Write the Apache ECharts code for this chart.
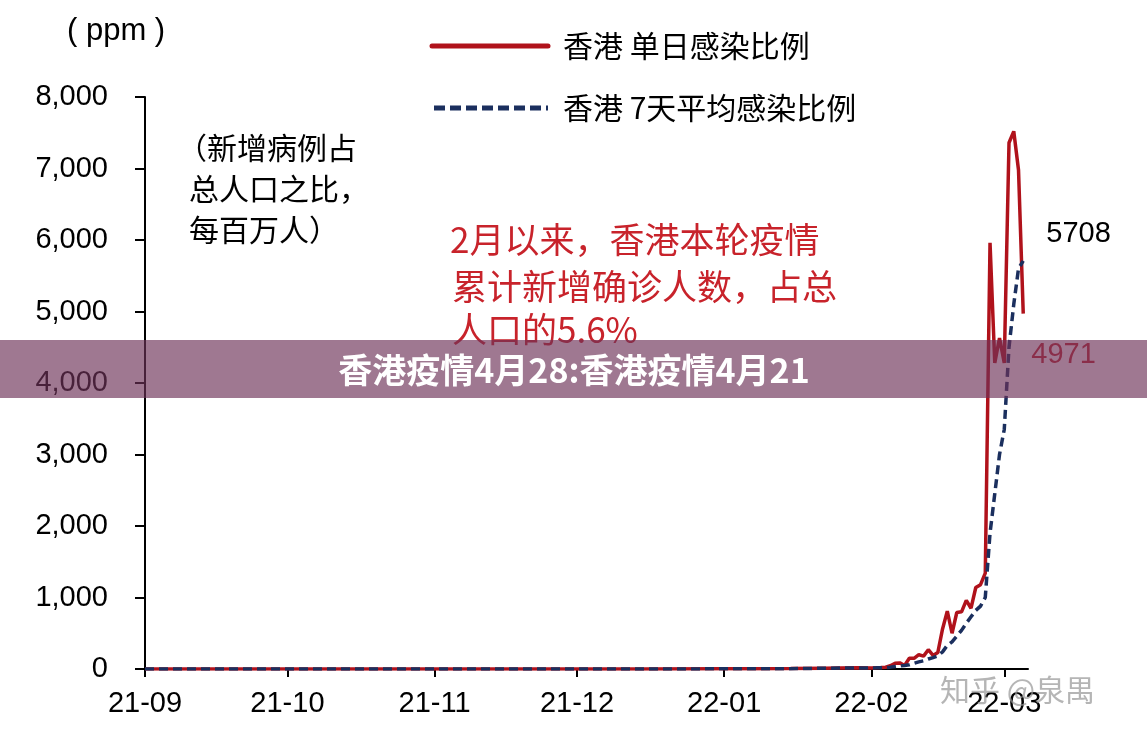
<!DOCTYPE html>
<html><head><meta charset="utf-8">
<script src="https://cdn.jsdelivr.net/npm/echarts@6/dist/echarts.min.js"></script>
<style>html,body{margin:0;padding:0;background:#fff}#c{width:1147px;height:737px}</style>
</head><body><div id="c"></div>
<script>
// Dates (sparse before Feb 2022, daily afterwards)
const dates = [
  '2021-09-01','2021-09-15','2021-10-01','2021-10-15','2021-11-01','2021-11-15',
  '2021-12-01','2021-12-15','2022-01-01','2022-01-08','2022-01-15','2022-01-22','2022-01-29',
  '2022-02-01','2022-02-02','2022-02-03','2022-02-04','2022-02-05','2022-02-06','2022-02-07',
  '2022-02-08','2022-02-09','2022-02-10','2022-02-11','2022-02-12','2022-02-13','2022-02-14',
  '2022-02-15','2022-02-16','2022-02-17','2022-02-18','2022-02-19','2022-02-20','2022-02-21',
  '2022-02-22','2022-02-23','2022-02-24','2022-02-25','2022-02-26','2022-02-27','2022-02-28',
  '2022-03-01','2022-03-02','2022-03-03','2022-03-04','2022-03-05'
];
// 香港 单日感染比例 (ppm)
const dailyRatio = [
  0,1,0,1,0,1,1,1,2,3,6,12,18,
  15,18,20,25,45,80,85,
  50,150,150,200,180,270,190,
  230,560,810,500,790,800,960,
  850,1140,1180,1340,5960,4280,4630,
  4280,7360,7520,6980,4971
];
// 香港 7天平均感染比例 (ppm)
const avgRatio = [
  0,0,0,1,0,1,1,1,2,2,5,10,15,
  15,16,18,20,26,36,46,
  50,60,80,100,115,140,160,
  185,240,330,380,460,540,640,
  730,820,880,1000,1900,2450,3000,
  3350,4500,5100,5600,5708
];
const monthLabels = ['21-09','21-10','21-11','21-12','22-01','22-02','22-03'];
const seriesNames = ['香港 单日感染比例','香港 7天平均感染比例'];

const RED = '#B0121B', NAVY = '#1B2F5E';
const chart = echarts.init(document.getElementById('c'));
const NUM_FONT = 'Liberation Sans';
const CJK_FONT = '"Noto Sans CJK SC"';

function monthLabel(v){
  const d = new Date(v);
  const idx = (d.getFullYear() - 2021) * 12 + d.getMonth() - 8;
  return monthLabels[idx] !== undefined ? monthLabels[idx] : '';
}

chart.setOption({
  animation: false,
  backgroundColor: '#fff',
  grid: {left: 145, right: 119, top: 97, bottom: 68},
  xAxis: {
    type: 'time',
    min: '2021-09-01', max: '2022-03-06',
    minInterval: 28 * 86400000, maxInterval: 31 * 86400000,
    axisLine: {show: true, lineStyle: {color: '#000', width: 2}},
    axisTick: {show: true, length: 8, lineStyle: {color: '#000', width: 2}},
    splitLine: {show: false},
    axisLabel: {fontSize: 29, fontFamily: NUM_FONT, color: '#000', margin: 20, formatter: monthLabel, showMaxLabel: false}
  },
  yAxis: {
    type: 'value', min: 0, max: 8000, interval: 1000,
    axisLine: {show: true, lineStyle: {color: '#000', width: 2}},
    axisTick: {show: true, length: 10, lineStyle: {color: '#000', width: 2}},
    splitLine: {show: false},
    axisLabel: {fontSize: 29, fontFamily: NUM_FONT, color: '#000', margin: 37,
      formatter: v => v.toLocaleString('en-US')}
  },
  series: [
    {
      name: seriesNames[0], type: 'line', symbol: 'none',
      data: dates.map((d, i) => [d, dailyRatio[i]]),
      lineStyle: {color: RED, width: 3.5},
      itemStyle: {color: RED},
      endLabel: {show: true, formatter: p => String(p.value[1]), color: '#c0282f',
        fontSize: 29, fontFamily: NUM_FONT, offset: [0, 41]}
    },
    {
      name: seriesNames[1], type: 'line', symbol: 'none',
      data: dates.map((d, i) => [d, avgRatio[i]]),
      lineStyle: {color: NAVY, width: 3.5, type: [9, 5]},
      itemStyle: {color: NAVY},
      endLabel: {show: true, formatter: p => String(p.value[1]), color: '#000',
        fontSize: 29, fontFamily: NUM_FONT, offset: [15, -27]}
    }
  ],
  graphic: [
    // legend
    {type: 'line', shape: {x1: 432, y1: 46, x2: 548, y2: 46}, style: {stroke: RED, lineWidth: 5, lineCap: 'round'}},
    {type: 'text', x: 563, y: 46, style: {text: seriesNames[0], fill: '#000', font: '30px ' + CJK_FONT, align: 'left', verticalAlign: 'middle'}},
    {type: 'line', shape: {x1: 434, y1: 108, x2: 548, y2: 108}, style: {stroke: NAVY, lineWidth: 5, lineDash: [11, 5]}},
    {type: 'text', x: 563, y: 108, style: {text: seriesNames[1], fill: '#000', font: '30px ' + CJK_FONT, align: 'left', verticalAlign: 'middle'}},
    // unit and notes
    {type: 'text', x: 67, y: 31, style: {text: '( ppm )', fill: '#000', font: '31px ' + NUM_FONT, align: 'left', verticalAlign: 'middle'}},
    {type: 'text', x: 177, y: 148, style: {text: '（新增病例占', fill: '#000', font: '30px ' + CJK_FONT, align: 'left', verticalAlign: 'middle'}},
    {type: 'text', x: 189, y: 189, style: {text: '总人口之比，', fill: '#000', font: '30px ' + CJK_FONT, align: 'left', verticalAlign: 'middle'}},
    {type: 'text', x: 189, y: 230, style: {text: '每百万人）', fill: '#000', font: '30px ' + CJK_FONT, align: 'left', verticalAlign: 'middle'}},
    {type: 'text', x: 450, y: 240, style: {text: '2月以来，香港本轮疫情', fill: '#C8232B', font: '35px ' + CJK_FONT, align: 'left', verticalAlign: 'middle'}},
    {type: 'text', x: 452, y: 287, style: {text: '累计新增确诊人数，占总', fill: '#C8232B', font: '35px ' + CJK_FONT, align: 'left', verticalAlign: 'middle'}},
    {type: 'text', x: 452, y: 330, style: {text: '人口的5.6%', fill: '#C8232B', font: '35px ' + CJK_FONT, align: 'left', verticalAlign: 'middle'}},
    // banner overlay
    {type: 'rect', z: 100, shape: {x: 0, y: 340, width: 1147, height: 58}, style: {fill: 'rgba(110,50,88,0.66)'}},
    {type: 'text', z: 101, x: 574, y: 370, style: {text: '香港疫情4月28:香港疫情4月21', fill: '#fff', font: 'bold 34px ' + CJK_FONT, align: 'center', verticalAlign: 'middle'}},
    // watermark
    {type: 'text', z: 101, x: 940, y: 690, style: {text: '知乎 @泉禺', fill: 'rgba(150,150,150,0.7)', font: '30px ' + CJK_FONT, align: 'left', verticalAlign: 'middle'}}
  ]
});
</script>
</body></html>
